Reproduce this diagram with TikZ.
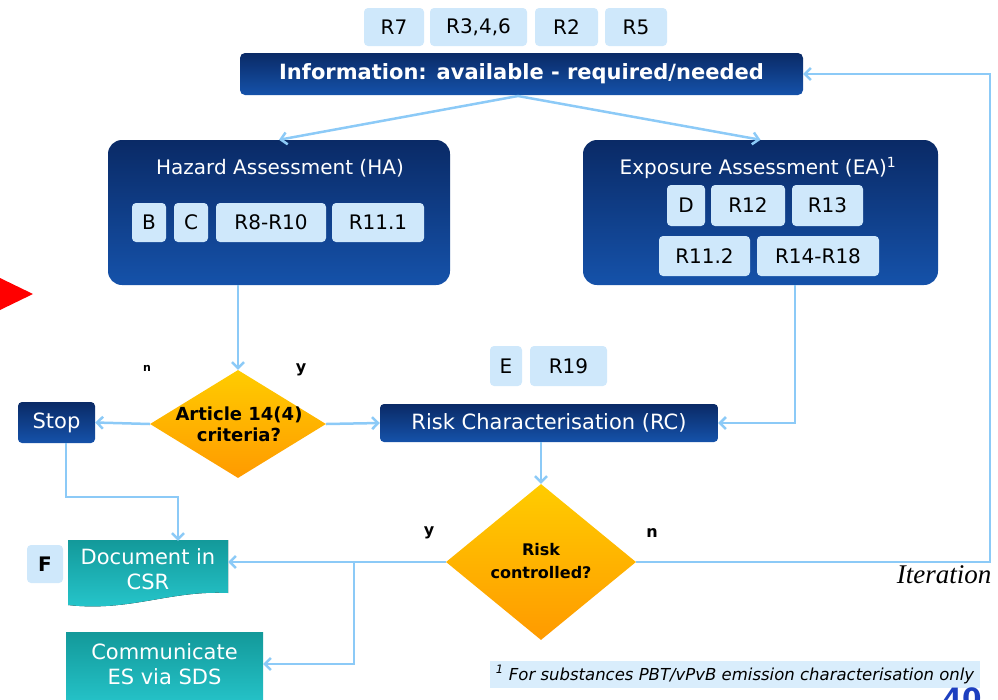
\documentclass[tikz,border=0pt]{standalone}
\usepackage{fontspec}
\setmainfont{DejaVu Sans}
\newfontfamily\itserif{Liberation Serif}
\usetikzlibrary{arrows.meta,shapes.geometric}
\definecolor{navyT}{HTML}{0A2A66}
\definecolor{navyB}{HTML}{1552AA}
\definecolor{tagblue}{HTML}{CFE8FB}
\definecolor{lineblue}{HTML}{8CCAF7}
\definecolor{orT}{HTML}{FFCC00}
\definecolor{orB}{HTML}{FF9A00}
\definecolor{tealT}{HTML}{13999A}
\definecolor{tealB}{HTML}{27C8CE}
\definecolor{pgblue}{HTML}{1D3FBF}
\tikzset{
  tag/.style={fill=tagblue, rounded corners=4pt, text=black, inner sep=0pt,
    font=\fontsize{20}{24}\selectfont},
  bigbox/.style={rounded corners=14pt, top color=navyT, bottom color=navyB, inner sep=0pt},
  barbox/.style={rounded corners=5pt, top color=navyT, bottom color=navyB, inner sep=0pt, text=white},
  decision/.style={diamond, top color=orT, bottom color=orB, inner sep=0pt},
  conn/.style={draw=lineblue, line width=2.5pt, -{Straight Barb[length=6pt,width=12pt]}},
  yn/.style={font=\bfseries\fontsize{16}{18}\selectfont, text=black},
  tealtext/.style={text=white, align=center, font=\fontsize{21}{25}\selectfont},
}
\begin{document}
\begin{tikzpicture}[x=1pt,y=-1pt]
\useasboundingbox (0,0) rectangle (998,699);
\clip (0,0) rectangle (998,699);
% top tags
\node[tag, minimum width=60pt, minimum height=38pt] (r7) at (394,27) {R7};
\node[tag, minimum width=97pt, minimum height=38pt] (r346) at (478.5,27) {R3,4,6};
\node[tag, minimum width=63pt, minimum height=38pt] (r2) at (566.5,27) {R2};
\node[tag, minimum width=62pt, minimum height=38pt] (r5) at (636,27) {R5};
% info bar
\node[barbox, minimum width=563pt, minimum height=42pt, font=\bfseries\fontsize{21}{24}\selectfont] (info) at (521.5,74) {Information: available - required/needed};
% HA
\node[bigbox, minimum width=342pt, minimum height=145pt] (ha) at (279,212.5) {};
\node[text=white, font=\fontsize{20}{24}\selectfont] (hat) at (280,168) {Hazard Assessment (HA)};
\node[tag, minimum width=34pt, minimum height=39pt] (tb) at (149,222.5) {B};
\node[tag, minimum width=34pt, minimum height=39pt] (tc) at (191,222.5) {C};
\node[tag, minimum width=110pt, minimum height=39pt] (r810) at (271,222.5) {R8-R10};
\node[tag, minimum width=92pt, minimum height=39pt] (r111) at (378,222.5) {R11.1};
% EA
\node[bigbox, minimum width=355pt, minimum height=145pt] (ea) at (760.5,212.5) {};
\node[text=white, font=\fontsize{20}{24}\selectfont] (eat) at (758,168) {Exposure Assessment (EA)\textsuperscript{1}};
\node[tag, minimum width=38pt, minimum height=41pt] (td) at (686,205.5) {D};
\node[tag, minimum width=74pt, minimum height=41pt] (r12) at (748,205.5) {R12};
\node[tag, minimum width=71pt, minimum height=41pt] (r13) at (827.5,205.5) {R13};
\node[tag, minimum width=91pt, minimum height=40pt] (r112) at (704.5,256) {R11.2};
\node[tag, minimum width=122pt, minimum height=40pt] (r1418) at (818,256) {R14-R18};
% Article diamond
\node[decision, minimum width=176pt, minimum height=108pt] (art) at (238,424) {};
\node[align=center, font=\bfseries\fontsize{18}{21}\selectfont] (artt) at (239,424) {Article 14(4)\\criteria?};
% Stop
\node[barbox, rounded corners=4pt, minimum width=77pt, minimum height=41pt, font=\fontsize{21}{24}\selectfont] (stop) at (56.5,422.5) {Stop};
% RC
\node[barbox, rounded corners=4pt, minimum width=338pt, minimum height=38pt, font=\fontsize{21}{24}\selectfont] (rc) at (549,423) {Risk Characterisation (RC)};
\node[tag, minimum width=32pt, minimum height=40pt] (te) at (506,366) {E};
\node[tag, minimum width=77pt, minimum height=40pt] (r19) at (568.5,366) {R19};
% Risk controlled diamond
\node[decision, minimum width=190pt, minimum height=156pt] (rdiam) at (541,562) {};
\node[align=center, font=\bfseries\fontsize{16}{23}\selectfont] (rdt) at (541,561) {Risk\\controlled?};
% Document in CSR
\fill[top color=tealT, bottom color=tealB] (68,540) -- (228,540) -- (228,593) .. controls (170,590) and (130,612) .. (68,605) -- cycle;
\node[tealtext, minimum width=160pt, minimum height=56pt, inner sep=0pt] (doc) at (148,569) {Document in\\CSR};
\node[tag, minimum width=36pt, minimum height=38pt, font=\bfseries\fontsize{20}{22}\selectfont] (tf) at (45,564) {F};
% Communicate
\fill[top color=tealT, bottom color=tealB] (66,632) rectangle (263,712);
\node[tealtext, minimum width=197pt, minimum height=66pt, inner sep=0pt] (comm) at (164.5,664) {Communicate\\ES via SDS};
% footnote
\node[fill=tagblue!80!white, minimum width=490pt, minimum height=27pt, inner sep=0pt, font=\itshape\fontsize{16.5}{18}\selectfont] (foot) at (735,674.5) {\textsuperscript{1} For substances PBT/vPvB emission characterisation only};
% page number (clipped in the reference too)
\node[anchor=north, text=pgblue, font=\bfseries\fontsize{28}{30}\selectfont, inner sep=0pt] (pg) at (962,688) {40};
% red arrowhead
\fill[red] (0,278) -- (33,294) -- (0,310) -- cycle;
% labels
\node[yn, font=\bfseries\fontsize{11}{13}\selectfont] (ln1) at (147,368) {n};
\node[yn] (ly1) at (301,370) {y};
\node[yn] (ly2) at (429,533) {y};
\node[yn] (ln2) at (652,533) {n};
\node[font=\itserif\itshape\fontsize{27}{30}\selectfont] (iter) at (944,575) {Iteration};
% connectors
\coordinate (split) at (518,96);
\draw[conn] (split) -- (ha.north);
\draw[conn] (split) -- (ea.north);
\draw[conn] (ha.south -| art.north) -- (art.north);
\draw[conn] (art.west) -- (stop.east);
\draw[conn] (art.east) -- (rc.west);
\coordinate (eadown) at (795,285);
\draw[conn] (eadown) |- (rc.east);
\coordinate (stopdown) at (66,443);
\coordinate (stopturn) at (178,497);
\draw[conn] (stopdown) |- (stopturn) -- (stopturn |- doc.north);
\draw[conn] (rc.south -| rdiam.north) -- (rdiam.north);
\draw[conn] (rdiam.west) -- (rdiam.west -| doc.east);
\coordinate (jn) at (354,562);
\draw[conn] (jn) |- (comm.east);
\coordinate (itc) at (990,562);
\draw[conn] (rdiam.east) -- (itc) |- (info.east);
\end{tikzpicture}
\end{document}
